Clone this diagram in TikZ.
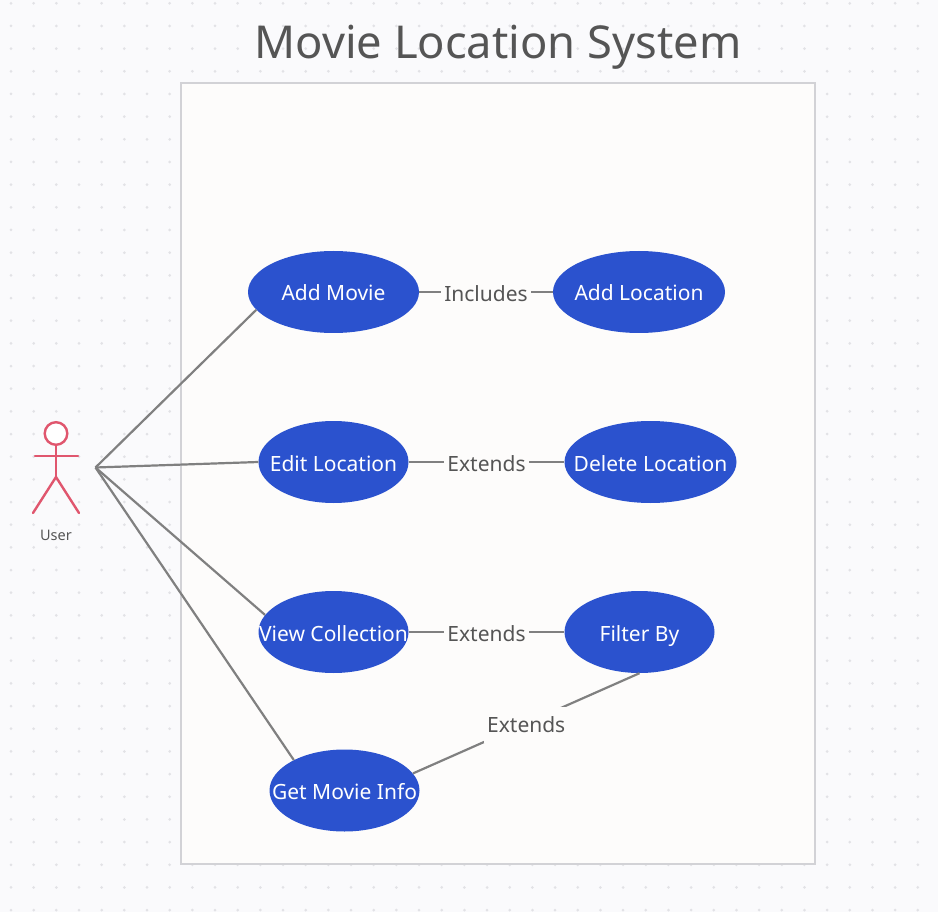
\documentclass[tikz,border=0pt]{standalone}
\usepackage{fontspec}
\setmainfont{Noto Sans}
\usetikzlibrary{shapes.geometric}
\definecolor{pagebg}{HTML}{FAFAFC}
\definecolor{boxbg}{HTML}{FDFCFB}
\definecolor{boxline}{HTML}{D2D2D6}
\definecolor{dotgray}{HTML}{E2E2E6}
\definecolor{caseblue}{HTML}{2B52CE}
\definecolor{actorred}{HTML}{E0566E}
\definecolor{linkgray}{HTML}{808080}
\definecolor{textgray}{HTML}{555555}
\tikzset{
    usecase/.style={ellipse, fill=caseblue, text=white, inner sep=0pt, minimum height=82pt,
        font=\fontsize{21}{25}\selectfont},
    link/.style={draw=linkgray, line width=2.2pt},
    linklabel/.style={fill=boxbg, text=textgray, inner sep=3pt, minimum height=36pt, yshift=-1.5pt,
        font=\fontsize{21}{25}\selectfont},
    actorline/.style={draw=actorred, line width=2.4pt, line cap=round}
}
\newcommand{\casetext}[1]{\makebox[0pt]{\raisebox{-9pt}[0pt][0pt]{#1}}}

\begin{document}
\begin{tikzpicture}[x=1pt, y=-1pt]
    \useasboundingbox (0,0) rectangle (938,912);
    \fill[pagebg] (0,0) rectangle (938,912);

    % dotted canvas
    \foreach \i in {0,...,40} {
        \foreach \j in {0,...,40} {
            \fill[dotgray] ({11+22.67*\i},{3.3+22.67*\j}) circle (1.5pt);
        }
    }

    \node[text=textgray, font=\fontsize{45.3}{54}\selectfont] (title) at (498,47) {Movie Location System};
    \draw[fill=boxbg, draw=boxline, line width=2pt] (181,83) rectangle (815,864);

    % actor
    \draw[actorline, fill=white] (56,433.5) circle (11.3pt);
    \draw[actorline] (56,445) -- (56,477);
    \draw[actorline] (35,456) -- (78,456);
    \draw[actorline] (33,513) -- (56,477) -- (79,513);
    \node[text=textgray, font=\fontsize{14.5}{17}\selectfont] (user) at (56,535) {User};
    \coordinate (userhand) at (95.5,467.5);

    % use cases
    \node[usecase, minimum width=171pt] (addmovie) at (333.5,292) {\casetext{Add Movie}};
    \node[usecase, minimum width=172pt] (addlocation) at (639,292) {\casetext{Add Location}};
    \node[usecase, minimum width=150pt] (editlocation) at (333.5,462) {\casetext{Edit Location}};
    \node[usecase, minimum width=172pt] (deletelocation) at (650.5,462) {\casetext{Delete Location}};
    \node[usecase, minimum width=150pt] (viewcollection) at (333.5,632) {\casetext{View Collection}};
    \node[usecase, minimum width=150pt] (filterby) at (639.5,632) {\casetext{Filter By}};
    \node[usecase, minimum width=150pt] (getmovieinfo) at (344.5,790.5) {\casetext{Get Movie Info}};

    \draw[link] (userhand) -- (addmovie.193);
    \draw[link] (userhand) -- (editlocation.west);
    \draw[link] (userhand) -- (viewcollection.166);
    \draw[link] (userhand) -- (getmovieinfo.149);

    \draw[link] (addmovie) -- node[linklabel] (includes) {Includes} (addlocation);
    \draw[link] (editlocation) -- node[linklabel] (extendsa) {Extends} (deletelocation);
    \draw[link] (viewcollection) -- node[linklabel] (extendsb) {Extends} (filterby);
    \draw[link] (getmovieinfo.14) -- node[linklabel] (extendsc) {Extends} (filterby.south);
\end{tikzpicture}
\end{document}
